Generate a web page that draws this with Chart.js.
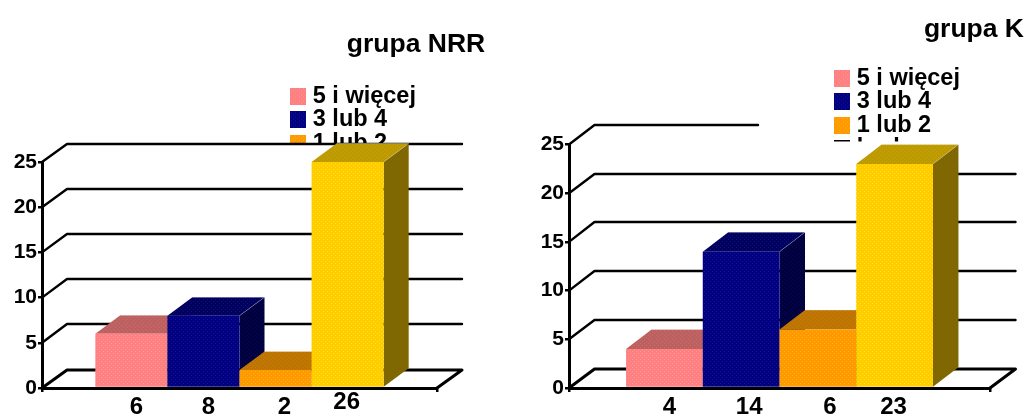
<!DOCTYPE html>
<html><head><meta charset="utf-8">
<style>html,body{margin:0;padding:0;background:#fff;overflow:hidden}
canvas{position:absolute;top:0}</style>
<script src="https://cdn.jsdelivr.net/npm/chart.js@4/dist/chart.umd.min.js"></script>
</head><body>
<canvas id="a" width="513" height="416" style="left:0"></canvas>
<canvas id="b" width="514" height="416" style="left:513px"></canvas>
<script>
const seriesNames = ['5 i więcej', '3 lub 4', '1 lub 2', 'brak'];
const valuesNRR = [6, 8, 2, 26];
const valuesK = [4, 14, 6, 23];
const yTicks = [0, 5, 10, 15, 20, 25];
const seriesRGB = [[255,128,128],[0,0,128],[255,153,0],[255,204,0]];
const FONT = '"Liberation Sans", Arial, sans-serif';

const rgb = (c, f) => `rgb(${c.map(v => Math.round(v * f)).join(',')})`;
function tile(c, f) {
  const t = document.createElement('canvas'); t.width = t.height = 4;
  const x = t.getContext('2d');
  x.fillStyle = rgb(c, f); x.fillRect(0, 0, 4, 4);
  x.fillStyle = rgb(c.map(v => Math.min(255, v + 20)), f);
  x.fillRect(1, 1, 1, 1); x.fillRect(3, 3, 1, 1);
  return t;
}
const pat = (ctx, c, f) => ctx.createPattern(tile(c, f), 'repeat');
function swatch(c, outlined) {
  const s = document.createElement('canvas'); s.width = 16; s.height = 17;
  const x = s.getContext('2d');
  x.fillStyle = x.createPattern(tile(c, 1), 'repeat'); x.fillRect(0, 0, 16, 17);
  if (outlined) { x.strokeStyle = '#000'; x.lineWidth = 2; x.strokeRect(1, 1, 14, 15); }
  return s;
}

function build(id, values, o) {
  const el = document.getElementById(id), ctx = el.getContext('2d');
  const depth = {
    id: 'depth',
    afterLayout(ch) {
      const t = ch.titleBlock;
      t.left = o.titleX[0]; t.right = o.titleX[1];
      const l = ch.legend;
      const w = 200, h = 130;
      l.left = o.legendAt[0]; l.top = o.legendAt[1];
      l.right = l.left + w; l.bottom = l.top + h; l.width = w; l.height = h;
      l.draw = function () { this._draw(); };
    },
    beforeDatasetsDraw(ch) {
      const c = ch.ctx, a = ch.chartArea, y = ch.scales.y;
      // the wall hides whatever part of the legend falls below its top
      c.save();
      c.fillStyle = '#fff';
      c.fillRect(a.left + 2, o.maskTop, el.width, a.bottom - 2 - o.maskTop);
      c.strokeStyle = '#000'; c.lineCap = 'round'; c.lineJoin = 'round';
      yTicks.forEach(v => {
        const p = y.getPixelForValue(v);
        const zero = v === 0;
        const back = Math.round(p - o.dy);
        c.lineWidth = zero ? 3 : 2.4;
        const end = (v === 25 && o.topLineEnd) ? o.topLineEnd : a.right + o.dx;
        c.beginPath();
        c.moveTo(a.left, p);
        c.lineTo(a.left + o.dx, back);
        c.lineTo(end, back);
        if (zero) c.lineTo(a.right, p);
        c.stroke();
      });
      c.restore();
      // bars go left to right, each one's top and side first, so nearer bars overlap correctly
      values.forEach((_, i) => {
        const meta = ch.getDatasetMeta(i);
        drawDepth(ch, meta.data[0], seriesRGB[i]);
        c.save();
        c.beginPath(); c.rect(a.left, a.top, a.right - a.left, a.bottom - a.top); c.clip();
        meta.controller.draw();
        c.restore();
      });
      return false;
    },
    afterDraw(ch) {
      const c = ch.ctx;
      c.save();
      c.fillStyle = '#000'; c.font = `bold ${o.labelSize}px ${FONT}`;
      c.textAlign = 'center'; c.textBaseline = 'middle';
      values.forEach((v, i) => {
        const b = ch.getDatasetMeta(i).data[0];
        c.fillText(String(v), b.x + o.labelShift[i], o.labelY[i]);
      });
      c.restore();
    }
  };
  function drawDepth(ch, b, col) {
    const c = ch.ctx, a = ch.chartArea;
    const L = b.x - b.width / 2, R = b.x + b.width / 2, base = b.base;
    const T = Math.max(b.y, a.top);
    c.save();
    c.fillStyle = pat(c, col, 0.75);
    c.beginPath(); c.moveTo(L, T); c.lineTo(L + o.dx, T - o.dy);
    c.lineTo(R + o.dx, T - o.dy); c.lineTo(R, T); c.closePath(); c.fill();
    c.fillStyle = pat(c, col, 0.5);
    c.beginPath(); c.moveTo(R, T); c.lineTo(R + o.dx, T - o.dy);
    c.lineTo(R + o.dx, base - o.dy); c.lineTo(R, base); c.closePath(); c.fill();
    c.strokeStyle = 'rgba(255,255,255,0.28)'; c.lineWidth = 1;
    c.beginPath(); c.moveTo(L + o.dx, T - o.dy); c.lineTo(R + o.dx, T - o.dy);
    c.lineTo(R, T); c.stroke();
    c.restore();
  }
  return new Chart(el, {
    type: 'bar',
    plugins: [depth],
    data: {
      labels: [''],
      datasets: values.map((v, i) => ({
        label: seriesNames[i],
        data: [v],
        backgroundColor: pat(ctx, seriesRGB[i], 1),
        borderWidth: 0,
        categoryPercentage: o.catPct,
        barPercentage: 1
      }))
    },
    options: {
      responsive: false, animation: false, devicePixelRatio: 1,
      layout: { padding: { top: 0, left: 0, bottom: 0, right: o.padRight } },
      plugins: {
        tooltip: { enabled: false },
        title: {
          display: true, text: o.title, color: '#000', align: o.titleAlign,
          font: { family: FONT, weight: 'bold', size: 26.5, lineHeight: 1.2 },
          padding: { top: o.titleTop, bottom: o.titleBottom }
        },
        legend: {
          display: true, position: 'chartArea', align: 'start',
          labels: {
            usePointStyle: true, pointStyleWidth: 6, padding: 0, color: '#000',
            font: { family: FONT, weight: 'bold', size: 23.5 },
            generateLabels: () => seriesNames.map((n, i) => ({
              text: n, datasetIndex: i, hidden: false, fontColor: '#000',
              lineWidth: 0, pointStyle: swatch(seriesRGB[i], i === 3)
            }))
          }
        }
      },
      scales: {
        x: {
          afterFit(s) { s.height = 28; },
          grid: { drawOnChartArea: false, tickLength: 4, color: '#000', lineWidth: 2.5 },
          border: { display: true, color: '#000', width: 3 },
          ticks: { display: false }
        },
        y: {
          min: 0, max: 25,
          afterFit(s) { s.width = o.axisWidth; },
          grid: { drawOnChartArea: false, tickLength: 4, color: '#000', lineWidth: 2.5 },
          border: { display: true, color: '#000', width: 3 },
          ticks: { stepSize: 5, color: '#000', padding: 1,
                   font: { family: FONT, weight: 'bold', size: 21 } }
        }
      }
    }
  });
}

build('a', valuesNRR, {
  title: 'grupa NRR', titleAlign: 'center', titleX: [276, 556], titleTop: 29, titleBottom: 101.2,
  legendAt: [295, 84.5], maskTop: 143, topLineEnd: null,
  dx: 25, dy: 18.5, catPct: 0.73, axisWidth: 42, padRight: 76, labelSize: 24,
  labelShift: [5, 5, 9, -1], labelY: [407, 407, 407, 402]
});
build('b', valuesK, {
  title: 'grupa K', titleAlign: 'end', titleX: [0, 511], titleTop: 14, titleBottom: 98.7,
  legendAt: [326, 66.5], maskTop: 141.5, topLineEnd: 245,
  dx: 25.5, dy: 19.5, catPct: 0.729, axisWidth: 56, padRight: 37, labelSize: 24,
  labelShift: [5, 8, 12, -1], labelY: [407, 407, 407, 407]
});
</script>
</body></html>
